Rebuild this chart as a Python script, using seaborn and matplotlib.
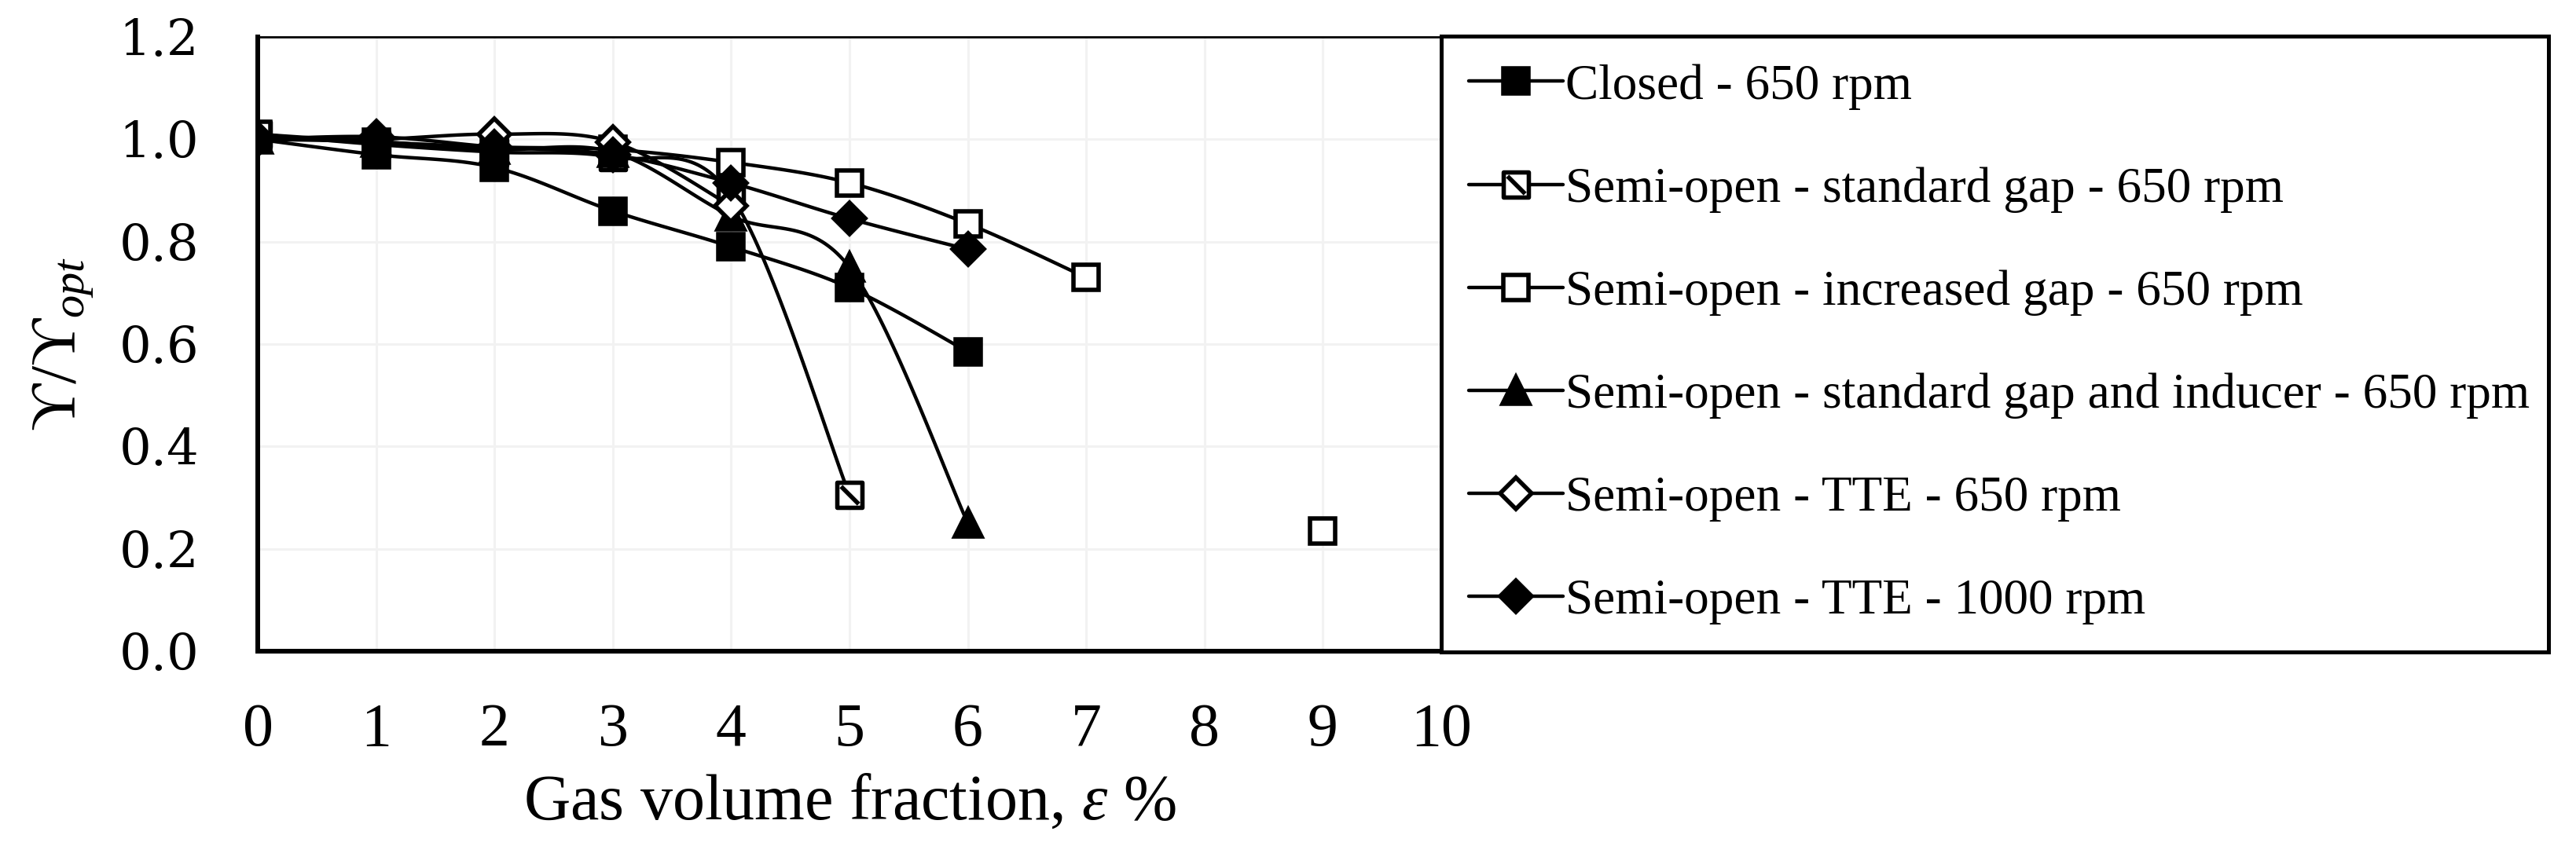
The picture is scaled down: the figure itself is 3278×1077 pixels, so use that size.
import numpy as np
import matplotlib
matplotlib.use("Agg")
import matplotlib.pyplot as plt
from matplotlib.lines import Line2D
from matplotlib.path import Path
import seaborn as sns

# -----------------------------
# Data
# -----------------------------
closed_x = [0, 1, 2, 3, 4, 5, 6]
closed = [1.00, 0.97, 0.945, 0.86, 0.79, 0.71, 0.585]

std_gap_x = [0, 1, 2, 3, 4, 5]
std_gap = [1.01, 0.99, 0.975, 0.965, 0.89, 0.305]

inc_gap_x = [0, 1, 2, 3, 4, 5, 6, 7, 8, 9]
inc_gap = [1.01, 0.995, 0.985, 0.98, 0.955, 0.915, 0.835, 0.73, np.nan, 0.235]

inducer_x = [0, 1, 2, 3, 4, 5, 6]
inducer = [1.00, 0.995, 0.98, 0.975, 0.85, 0.75, 0.25]

tte650_x = [0, 1, 2, 3, 4]
tte650 = [1.00, 1.00, 1.01, 0.995, 0.87]

tte1000_x = [0, 1, 2, 3, 4, 5, 6]
tte1000 = [1.00, 1.005, 0.985, 0.97, 0.915, 0.845, 0.785]

labels = [
    "Closed - 650 rpm",
    "Semi-open - standard gap - 650 rpm",
    "Semi-open - increased gap - 650 rpm",
    "Semi-open - standard gap and inducer - 650 rpm",
    "Semi-open - TTE - 650 rpm",
    "Semi-open - TTE - 1000 rpm",
]
x_ticks = list(range(11))
y_ticks = [0.0, 0.2, 0.4, 0.6, 0.8, 1.0, 1.2]

# -----------------------------
# Style
# -----------------------------
sns.set_theme(style="white")
plt.rcParams["font.family"] = ["Liberation Serif", "DejaVu Serif"]
plt.rcParams["mathtext.fontset"] = "custom"
plt.rcParams["mathtext.rm"] = "Liberation Serif"
plt.rcParams["mathtext.it"] = "Liberation Serif:italic"

# hatched-looking square: outline plus a diagonal
hatch_sq = Path(
    [(-0.5, -0.5), (0.5, -0.5), (0.5, 0.5), (-0.5, 0.5), (-0.5, -0.5),
     (-0.35, 0.35), (0.35, -0.35)],
    [Path.MOVETO, Path.LINETO, Path.LINETO, Path.LINETO, Path.CLOSEPOLY,
     Path.MOVETO, Path.LINETO],
)

LW = 3.2
MEW = 4.0
styles = [
    dict(marker="s", ms=23, mfc="black"),
    dict(marker=hatch_sq, ms=23, mfc="white"),
    dict(marker="s", ms=23, mfc="white"),
    dict(marker="^", ms=24, mfc="black"),
    dict(marker="D", ms=20, mfc="white"),
    dict(marker="D", ms=20, mfc="black"),
]

W, H = 3278, 1077
ax_px = (328, 47, 1834, 829)  # left, top, right, bottom in pixels
XMAX, YMAX = 10, 1.2


# -----------------------------
# Excel-like smoothed line
# -----------------------------
def excel_smooth(x, y, sx, sy, n=40):
    x = np.asarray(x, float)
    y = np.asarray(y, float)
    out_x, out_y = [], []
    good = ~np.isnan(y)
    idx = np.where(good)[0]
    segs = np.split(idx, np.where(np.diff(idx) != 1)[0] + 1)
    for seg in segs:
        if len(seg) < 2:
            continue
        P = np.column_stack([x[seg] * sx, y[seg] * sy])
        t = np.linspace(0, 1, n)[:, None]
        for i in range(len(P) - 1):
            p0 = P[i - 1] if i > 0 else P[i]
            p1, p2 = P[i], P[i + 1]
            p3 = P[i + 2] if i + 2 < len(P) else P[i + 1]
            c1 = p1 + (p2 - p0) / 6
            c2 = p2 - (p3 - p1) / 6
            b = ((1 - t) ** 3) * p1 + 3 * ((1 - t) ** 2) * t * c1 \
                + 3 * (1 - t) * t ** 2 * c2 + t ** 3 * p2
            out_x.append(b[:, 0] / sx)
            out_y.append(b[:, 1] / sy)
    return out_x, out_y


# -----------------------------
# Figure
# -----------------------------
fig = plt.figure(figsize=(W / 100, H / 100), dpi=100)
ax = fig.add_axes([ax_px[0] / W, 1 - ax_px[3] / H,
                   (ax_px[2] - ax_px[0]) / W, (ax_px[3] - ax_px[1]) / H])
sx = (ax_px[2] - ax_px[0]) / XMAX
sy = (ax_px[3] - ax_px[1]) / YMAX

series = [
    (closed_x, closed),
    (std_gap_x, std_gap),
    (inc_gap_x, inc_gap),
    (inducer_x, inducer),
    (tte650_x, tte650),
    (tte1000_x, tte1000),
]

for k, ((xs, ys), st) in enumerate(zip(series, styles)):
    cx, cy = excel_smooth(xs, ys, sx, sy)
    for a, b in zip(cx, cy):
        sns.lineplot(x=a, y=b, ax=ax, color="black", lw=LW,
                     estimator=None, sort=False, zorder=3 + k)
    ax.plot(xs, ys, ls="none", color="black", marker=st["marker"],
            ms=st["ms"], mfc=st["mfc"], mec="black", mew=MEW,
            zorder=3.5 + k)

ax.set_xlim(0, XMAX)
ax.set_ylim(0, YMAX)
ax.set_xticks(x_ticks)
ax.set_yticks(y_ticks)
ax.set_yticklabels([f"{v:.1f}" for v in y_ticks], family="DejaVu Serif",
                   fontsize=46)
ax.set_xticklabels([str(v) for v in x_ticks], fontsize=56)
ax.tick_params(axis="x", length=0, pad=47, colors="black")
ax.tick_params(axis="y", length=0, pad=54, colors="black")
ax.grid(True, color="#f2f2f2", lw=2.2)
ax.set_axisbelow(True)

for side in ["left", "bottom"]:
    ax.spines[side].set_linewidth(4.3)
    ax.spines[side].set_color("black")
for side in ["top", "right"]:
    ax.spines[side].set_linewidth(2.0)
    ax.spines[side].set_color("black")

ax.set_xlabel(r"Gas volume fraction, $ε$ %", fontsize=59, labelpad=14,
              color="black")
ax.set_ylabel(r"$\mathrm{ϒ/ϒ}_{opt}$", fontsize=60, labelpad=22,
              color="black")

# -----------------------------
# Legend
# -----------------------------
handles = [
    Line2D([], [], color="black", lw=LW, marker=st["marker"], ms=st["ms"],
           mfc=st["mfc"], mec="black", mew=MEW)
    for st in styles
]
leg_x0 = ax_px[2] / W
leg_x1 = 3243 / W
leg = ax.legend(
    handles, labels,
    bbox_to_anchor=(leg_x0, 1 - ax_px[3] / H, leg_x1 - leg_x0,
                    (ax_px[3] - ax_px[1]) / H),
    bbox_transform=fig.transFigure,
    loc="center", mode="expand", borderaxespad=0,
    fontsize=45.5, frameon=True, fancybox=False, edgecolor="black",
    framealpha=1, labelspacing=1.15, borderpad=0.55,
    handlelength=1.9, handletextpad=0.05,
)
leg.get_frame().set_linewidth(3.6)
for t in leg.get_texts():
    t.set_color("black")

fig.savefig("out.png", dpi=100)
